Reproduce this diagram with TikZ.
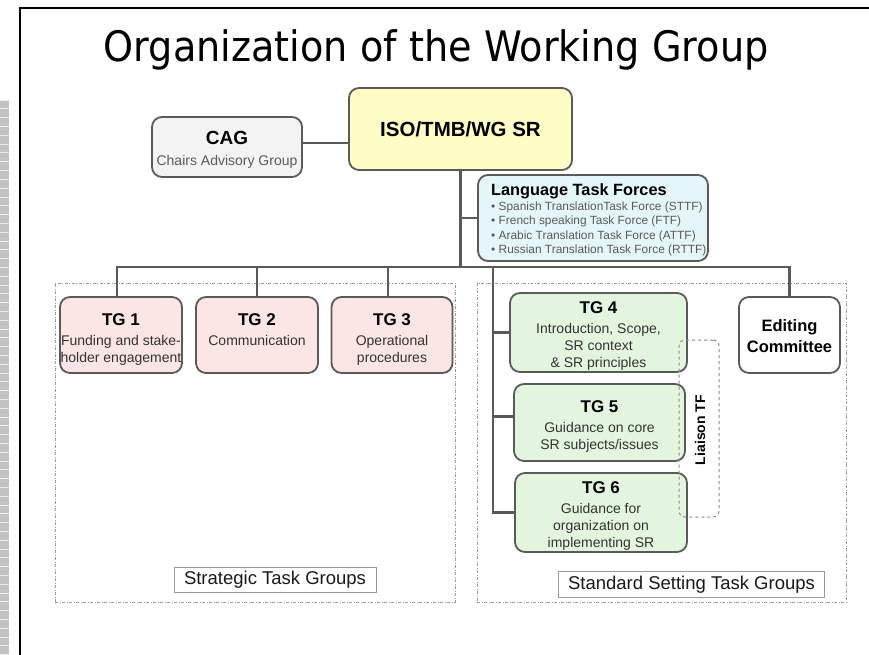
\documentclass[tikz,border=0pt]{standalone}
\usepackage{graphicx}
\usepackage{fontspec}
\setmainfont{Liberation Sans}
\newfontfamily\titlefont{DejaVu Sans}
\usetikzlibrary{calc}

\definecolor{edge}{HTML}{5A5A5A}
\definecolor{isofill}{HTML}{FFFDC6}
\definecolor{cagfill}{HTML}{F3F3F3}
\definecolor{ltffill}{HTML}{E5F6F8}
\definecolor{pinkfill}{HTML}{FCE5E5}
\definecolor{greenfill}{HTML}{E3F5DF}
\definecolor{framegray}{HTML}{9A9A9A}
\definecolor{bodytext}{HTML}{333333}
\definecolor{subtext}{HTML}{5A5A5A}
\definecolor{stripgray}{HTML}{C2C2C2}

\newcommand\tgname[1]{{\color{black}\bfseries\fontsize{17}{17}\selectfont #1}}

\begin{document}
\begin{tikzpicture}[x=1pt,y=-1pt,
  orgbox/.style={draw=edge, line width=1.8pt, rounded corners=10pt, inner sep=0pt},
  conn/.style={draw=edge, line width=2.4pt},
  groupframe/.style={draw=framegray, line width=0.8pt,
    dash pattern=on 3pt off 1.5pt on 1pt off 1.5pt, inner sep=0pt},
  labelbox/.style={draw=framegray, line width=1pt, fill=white,
    inner xsep=10pt, inner ysep=4.3pt, font=\fontsize{18.5}{20}\selectfont, text=black!90},
  tgtext/.style={anchor=north, align=center, inner sep=0pt, text=bodytext,
    font=\fontsize{14}{17}\selectfont},
]
\useasboundingbox (0,0) rectangle (869,655);

% side strip and slide border
\fill[stripgray] (0,100) rectangle (9,655);
\foreach \k in {0,...,63}
  \draw[white!70!stripgray, line width=0.6pt] (0,100+\k*8.8) -- (9,100+\k*8.8);
\draw[black, line width=2.2pt] (20,655) -- (20,8) -- (869,8);

% title
\node[anchor=base, inner sep=0pt] (title) at (436,62)
  {\titlefont\fontsize{42}{42}\selectfont\scalebox{0.91}[1]{Organization of the Working Group}};

% group frames
\node[groupframe, minimum width=400pt, minimum height=319pt] (stratframe) at (255,442.5) {};
\node[groupframe, minimum width=369pt, minimum height=319pt] (stdframe) at (661.5,442.5) {};

% boxes
\node[orgbox, fill=isofill, minimum width=223pt, minimum height=82pt,
  font=\bfseries\fontsize{20.5}{22}\selectfont] (iso) at (460.5,129) {ISO/TMB/WG SR};
\node[orgbox, fill=cagfill, minimum width=150pt, minimum height=60pt] (cag) at (227,147) {};
\node[orgbox, fill=ltffill, minimum width=230pt, minimum height=86pt] (ltf) at (593,218) {};

\node[orgbox, fill=pinkfill, minimum width=122pt, minimum height=76pt] (tg1) at (121,335) {};
\node[orgbox, fill=pinkfill, minimum width=122pt, minimum height=76pt] (tg2) at (257,335) {};
\node[orgbox, fill=pinkfill, minimum width=121pt, minimum height=76pt] (tg3) at (392,335) {};

\node[orgbox, fill=greenfill, minimum width=177pt, minimum height=79pt] (tg4) at (598.5,332.5) {};
\node[orgbox, fill=greenfill, minimum width=171pt, minimum height=77pt] (tg5) at (599.5,422.5) {};
\node[orgbox, fill=greenfill, minimum width=172pt, minimum height=79pt] (tg6) at (601,512.5) {};

\node[orgbox, fill=white, minimum width=101pt, minimum height=76pt] (ed) at (789.5,335) {};

\node[draw=edge!70, dashed, line width=1pt, rounded corners=6pt,
  minimum width=40pt, minimum height=177pt] (liaison) at (699,428.5) {};

% connectors
\coordinate (bus) at (459,267);
\coordinate (sstrunk) at (493,267);
\coordinate (tg1top) at ([xshift=-4pt]tg1.north);
\coordinate (tg3top) at ([xshift=-4pt]tg3.north);
\coordinate (tg5in) at ([yshift=6pt]tg5.west);
\coordinate (cagout) at ([yshift=4pt]cag.east);

\draw[conn] (iso.south) -- (iso.south |- bus);
\draw[conn] (iso.south |- ltf.west) -- (ltf.west);
\draw[conn] (cagout) -- (cagout -| iso.west);
\draw[conn] (tg1top) -- (tg1top |- bus) -- (ed.north |- bus) -- (ed.north);
\draw[conn] (tg2.north |- bus) -- (tg2.north);
\draw[conn] (tg3top |- bus) -- (tg3top);
\draw[conn] (sstrunk) -- (sstrunk |- tg6.west) -- (tg6.west);
\draw[conn] (sstrunk |- tg4.west) -- (tg4.west);
\draw[conn] (sstrunk |- tg5in) -- (tg5in);

% texts
\node[anchor=north, align=center, inner sep=0pt, text=subtext,
  font=\fontsize{14}{17}\selectfont] (cagtxt) at (227,131.5)
  {{\color{black}\bfseries\fontsize{19}{19}\selectfont CAG}\\[4pt]Chairs Advisory Group};

\node[anchor=north west, align=left, inner sep=0pt, text=subtext,
  font=\fontsize{11.9}{14.5}\selectfont] (ltftxt) at (491,183)
  {{\color{black}\bfseries\fontsize{16.3}{16}\selectfont Language Task Forces}\\[0.5pt]
   • Spanish TranslationTask Force (STTF)\\
   • French speaking Task Force (FTF)\\
   • Arabic Translation Task Force (ATTF)\\
   • Russian Translation Task Force (RTTF)};

\node[tgtext] (tg1txt) at (121,313) {\tgname{TG 1}\\[3pt]Funding and stake-\\holder engagement};
\node[tgtext] (tg2txt) at (257,313) {\tgname{TG 2}\\[3pt]Communication};
\node[tgtext] (tg3txt) at (392,313) {\tgname{TG 3}\\[3pt]Operational\\procedures};

\node[tgtext] (tg4txt) at (598.5,301)
  {\tgname{TG 4}\\[3pt]Introduction, Scope,\\SR context\\\& SR principles};
\node[tgtext] (tg5txt) at (599.5,400)
  {\tgname{TG 5}\\[3pt]Guidance on core\\SR subjects/issues};
\node[tgtext] (tg6txt) at (601,481)
  {\tgname{TG 6}\\[3pt]Guidance for\\organization on\\implementing SR};

\node[anchor=north, align=center, inner sep=0pt,
  font=\bfseries\fontsize{16.5}{21}\selectfont] (edtxt) at (789.5,319) {Editing\\Committee};

\node[rotate=90, inner sep=0pt, font=\bfseries\fontsize{14}{14}\selectfont] (liaisontxt)
  at (700,430) {Liaison TF};

\node[labelbox] (stratlabel) at (275,580) {Strategic Task Groups};
\node[labelbox] (stdlabel) at (691.5,584.5) {Standard Setting Task Groups};
\end{tikzpicture}
\end{document}
